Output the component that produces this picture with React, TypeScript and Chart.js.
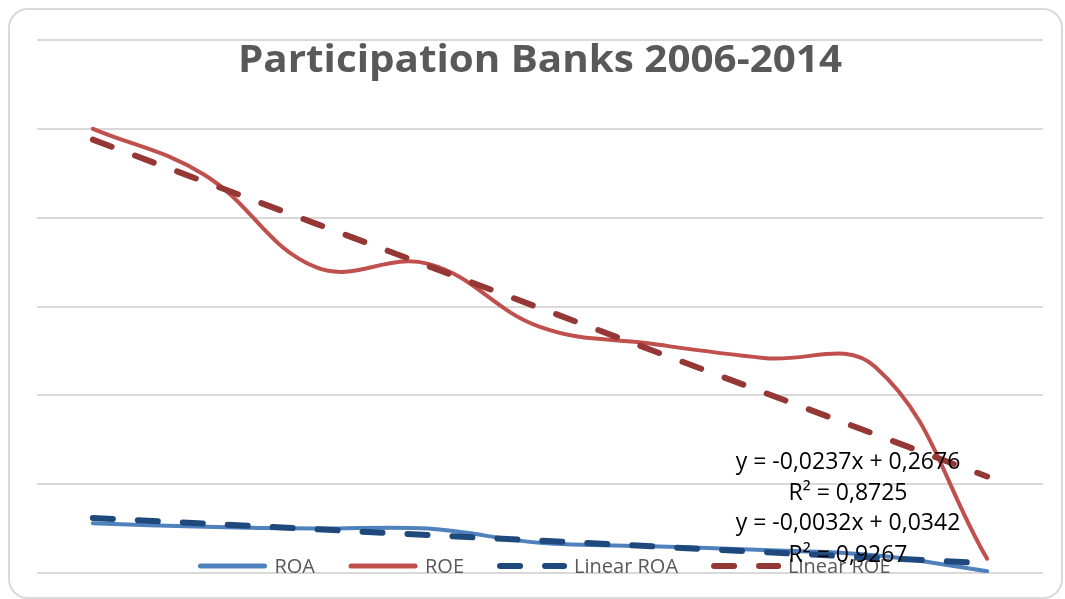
import React, { useEffect, useRef } from "react";
import { Chart, registerables } from "chart.js";

Chart.register(...registerables);

const TITLE = "Participation Banks 2006-2014";
const categories = ["2006", "2007", "2008", "2009", "2010", "2011", "2012", "2013", "2014"];
const roaValues = [0.028, 0.026, 0.025, 0.025, 0.017, 0.015, 0.013, 0.010, 0.001];
const roeValues = [0.25, 0.224, 0.172, 0.174, 0.1385, 0.129, 0.121, 0.116, 0.008];
// Excel linear trendline coefficients (y = slope * x + intercept, x = 1..n)
const roaTrend = { slope: -0.0032, intercept: 0.0342, r2: "0,9267", label: "y = -0,0032x + 0,0342" };
const roeTrend = { slope: -0.0237, intercept: 0.2676, r2: "0,8725", label: "y = -0,0237x + 0,2676" };
const seriesNames = ["ROA", "ROE", "Linear ROA", "Linear ROE"];
const colors = ["#4f81bd", "#c0504d", "#1f497d", "#953735"];
const yMin = 0;
const yMax = 0.3;
const yStep = 0.05;

const trendValues = (t: { slope: number; intercept: number }) =>
  categories.map((_, i) => t.slope * (i + 1) + t.intercept);

const DASH = [20, 25];

const overlayPlugin = {
  id: "overlay",
  beforeDatasetsDraw(chart: any) {
    const ctx = chart.ctx as CanvasRenderingContext2D;
    const area = chart.chartArea;
    ctx.save();
    // title
    ctx.fillStyle = "#595959";
    ctx.font = "bold 37px 'Open Sans'";
    ctx.textAlign = "center";
    ctx.textBaseline = "middle";
    const tw = ctx.measureText(TITLE).width;
    const sx = 604 / tw;
    ctx.save();
    ctx.translate((area.left + area.right) / 2, 61);
    ctx.scale(sx, 1);
    ctx.fillText(TITLE, 0, 0);
    ctx.restore();
    // legend
    ctx.font = "20px 'Open Sans'";
    ctx.textAlign = "left";
    const symW = 70;
    const gap = 7;
    const spacing = 33;
    const widths = seriesNames.map((n) => ctx.measureText(n).width);
    const total = widths.reduce((a, w) => a + symW + gap + w, 0) + spacing * (seriesNames.length - 1);
    let x = 544 - total / 2;
    const y = 566;
    seriesNames.forEach((name, i) => {
      ctx.beginPath();
      ctx.strokeStyle = colors[i];
      ctx.lineWidth = i < 2 ? 5 : 6;
      ctx.lineCap = "round";
      ctx.setLineDash(i < 2 ? [] : DASH);
      ctx.moveTo(x + 3, y);
      ctx.lineTo(x + symW - 3, y);
      ctx.stroke();
      ctx.setLineDash([]);
      ctx.fillStyle = "#595959";
      ctx.fillText(name, x + symW + gap, y + 1);
      x += symW + gap + widths[i] + spacing;
    });
    ctx.restore();
  },
  afterDraw(chart: any) {
    const ctx = chart.ctx as CanvasRenderingContext2D;
    ctx.save();
    ctx.fillStyle = "#000000";
    ctx.font = "23px 'Open Sans'";
    ctx.textAlign = "center";
    ctx.textBaseline = "middle";
    const cx = 848;
    ctx.fillText(roeTrend.label, cx, 462);
    ctx.fillText("R² = " + roeTrend.r2, cx, 493);
    ctx.fillText(roaTrend.label, cx, 523);
    ctx.fillText("R² = " + roaTrend.r2, cx, 555);
    ctx.restore();
  },
};

export default function App() {
  const ref = useRef<HTMLCanvasElement | null>(null);
  useEffect(() => {
    if (!ref.current) return;
    const chart = new Chart(ref.current, {
      type: "line",
      data: {
        labels: categories,
        datasets: [
          {
            label: seriesNames[0],
            data: roaValues,
            borderColor: colors[0],
            borderWidth: 4,
            pointRadius: 0,
            tension: 0.35,
            borderCapStyle: "round",
            order: 3,
          },
          {
            label: seriesNames[1],
            data: roeValues,
            borderColor: colors[1],
            borderWidth: 4,
            pointRadius: 0,
            tension: 0.4,
            borderCapStyle: "round",
            order: 2,
          },
          {
            label: seriesNames[2],
            data: trendValues(roaTrend),
            borderColor: colors[2],
            borderWidth: 6,
            borderDash: DASH,
            borderCapStyle: "round",
            pointRadius: 0,
            tension: 0,
            order: 1,
          },
          {
            label: seriesNames[3],
            data: trendValues(roeTrend),
            borderColor: colors[3],
            borderWidth: 6,
            borderDash: DASH,
            borderCapStyle: "round",
            pointRadius: 0,
            tension: 0,
            order: 0,
          },
        ],
      },
      options: {
        animation: false,
        responsive: false,
        maintainAspectRatio: false,
        layout: { padding: { left: 37, top: 40, right: 22, bottom: 26 } },
        plugins: {
          legend: { display: false },
          title: { display: false },
          tooltip: { enabled: false },
        },
        scales: {
          x: { display: false, offset: true },
          y: {
            min: yMin,
            max: yMax,
            ticks: { display: false, stepSize: yStep },
            grid: { color: "#d9d9d9", lineWidth: 2, drawTicks: false, tickLength: 0 },
            border: { display: false },
          },
        },
      },
      plugins: [overlayPlugin],
    });
    return () => chart.destroy();
  }, []);

  return (
    <div style={{ position: "fixed", left: 0, top: 0, width: 1065, height: 599, background: "#fff", overflow: "hidden" }}>
      <div
        style={{
          position: "absolute",
          left: 8,
          top: 8,
          width: 1051,
          height: 587,
          border: "2px solid #d9d9d9",
          borderRadius: 20,
          boxSizing: "content-box",
        }}
      />
      <canvas ref={ref} width={1065} height={599} style={{ position: "absolute", left: 0, top: 0, width: 1065, height: 599 }} />
    </div>
  );
}
